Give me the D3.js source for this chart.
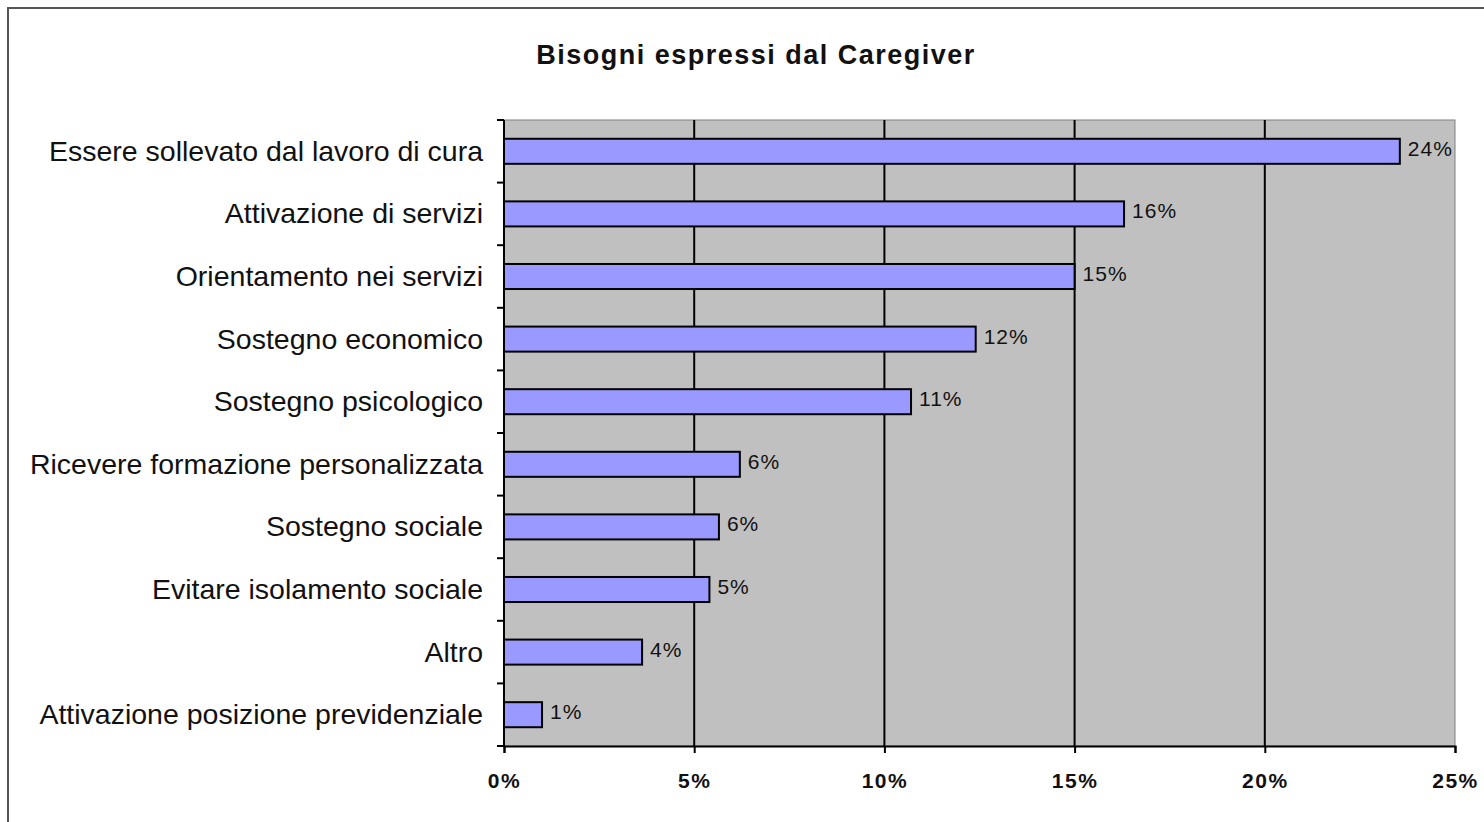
<!DOCTYPE html>
<html>
<head>
<meta charset="utf-8">
<script src="https://cdn.jsdelivr.net/npm/d3@7"></script>
<style>
body { margin: 0; background: #fff; }
text { font-family: "Liberation Sans", Arial, sans-serif; fill: #111; }
</style>
</head>
<body>
<script>
// categories top to bottom
const categories = [
  "Essere sollevato dal lavoro di cura",
  "Attivazione di servizi",
  "Orientamento nei servizi",
  "Sostegno economico",
  "Sostegno psicologico",
  "Ricevere formazione personalizzata",
  "Sostegno sociale",
  "Evitare isolamento sociale",
  "Altro",
  "Attivazione posizione previdenziale"
];
const values = [23.55, 16.3, 15.0, 12.4, 10.7, 6.2, 5.65, 5.4, 3.63, 1.0];
const valueLabels = ["24%", "16%", "15%", "12%", "11%", "6%", "6%", "5%", "4%", "1%"];
const xTicks = [0, 5, 10, 15, 20, 25];

const W = 1484, H = 822;
const plotL = 504, plotR = 1455, plotT = 120, plotB = 746;

const svg = d3.select("body").append("svg")
  .attr("width", W)
  .attr("height", H);

// outer frame
svg.append("rect")
  .attr("x", 8).attr("y", 8)
  .attr("width", W + 10).attr("height", H + 10)
  .attr("fill", "#fff")
  .attr("stroke", "#555")
  .attr("stroke-width", 2);

svg.append("text")
  .attr("x", 756).attr("y", 64)
  .attr("text-anchor", "middle")
  .style("font-size", "27px")
  .style("font-weight", "bold")
  .style("letter-spacing", "1.5px")
  .text("Bisogni espressi dal Caregiver");

const x = d3.scaleLinear().domain([0, 25]).range([plotL, plotR]);
const y = d3.scaleBand().domain(categories).range([plotT, plotB]).paddingInner(0.6).paddingOuter(0.3);

// plot background
svg.append("rect")
  .attr("x", plotL).attr("y", plotT)
  .attr("width", plotR - plotL).attr("height", plotB - plotT)
  .attr("fill", "#c0c0c0")
  .attr("stroke", "#808080")
  .attr("stroke-width", 1);

// gridlines
svg.selectAll(".grid")
  .data(xTicks.slice(1, -1))
  .enter()
  .append("line")
  .attr("x1", d => x(d)).attr("x2", d => x(d))
  .attr("y1", plotT).attr("y2", plotB)
  .attr("stroke", "#000")
  .attr("stroke-width", 2);

// bars
svg.selectAll(".bar")
  .data(values)
  .enter()
  .append("rect")
  .attr("x", x(0))
  .attr("y", (d, i) => y(categories[i]))
  .attr("width", d => x(d) - x(0))
  .attr("height", y.bandwidth())
  .attr("fill", "#9999ff")
  .attr("stroke", "#000")
  .attr("stroke-width", 2);

// value labels
svg.selectAll(".vlabel")
  .data(values)
  .enter()
  .append("text")
  .attr("x", d => x(d) + 8)
  .attr("y", (d, i) => y(categories[i]) + y.bandwidth() / 2 - 1)
  .attr("dominant-baseline", "middle")
  .style("font-size", "21px")
  .style("letter-spacing", "1px")
  .text((d, i) => valueLabels[i]);

// category labels
svg.selectAll(".clabel")
  .data(categories)
  .enter()
  .append("text")
  .attr("x", plotL - 21)
  .attr("y", d => y(d) + y.bandwidth() / 2 + 2)
  .attr("text-anchor", "end")
  .attr("dominant-baseline", "middle")
  .style("font-size", "28.5px")
  .text(d => d);

// y axis line + ticks at band boundaries
svg.append("line")
  .attr("x1", plotL).attr("x2", plotL)
  .attr("y1", plotT).attr("y2", plotB)
  .attr("stroke", "#000").attr("stroke-width", 2);
const bounds = d3.range(categories.length + 1).map(i => plotT + i * y.step());
svg.selectAll(".ytick")
  .data(bounds)
  .enter()
  .append("line")
  .attr("x1", plotL - 7).attr("x2", plotL)
  .attr("y1", d => d).attr("y2", d => d)
  .attr("stroke", "#000").attr("stroke-width", 2);

// x axis
const xAxis = svg.append("g")
  .attr("transform", `translate(0,${plotB})`)
  .call(d3.axisBottom(x).tickValues(xTicks).tickFormat(d => d + "%").tickSize(7).tickPadding(20));
xAxis.select(".domain").attr("stroke", "#000").attr("stroke-width", 2);
xAxis.selectAll(".tick line").attr("stroke", "#000").attr("stroke-width", 2);
xAxis.selectAll(".tick text")
  .style("font-size", "21px")
  .style("font-weight", "bold")
  .style("letter-spacing", "1.5px")
  .style("font-family", "\"Liberation Sans\", Arial, sans-serif")
  .attr("fill", "#222");
</script>
</body>
</html>
